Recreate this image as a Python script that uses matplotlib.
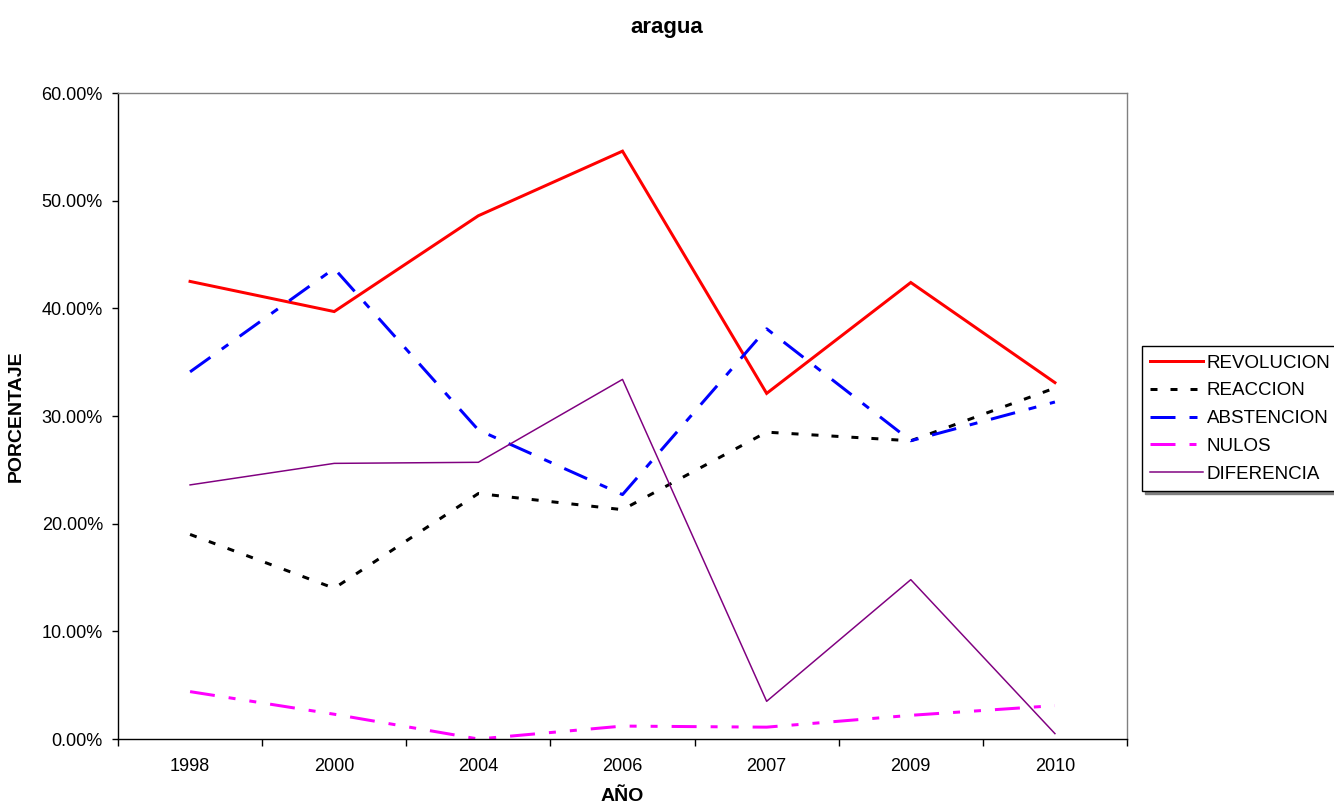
import matplotlib
matplotlib.use("Agg")
import matplotlib.pyplot as plt
from matplotlib.ticker import FixedLocator, PercentFormatter

plt.rcParams['font.family'] = ['Liberation Sans', 'DejaVu Sans']
plt.rcParams['lines.scale_dashes'] = False

years = ["1998", "2000", "2004", "2006", "2007", "2009", "2010"]
revolucion = [42.5, 39.7, 48.6, 54.6, 32.1, 42.4, 33.1]
reaccion = [19.0, 14.0, 22.8, 21.3, 28.5, 27.7, 32.6]
abstencion = [34.1, 43.7, 28.7, 22.7, 38.1, 27.7, 31.3]
nulos = [4.4, 2.3, 0.0, 1.2, 1.1, 2.2, 3.1]
diferencia = [23.6, 25.6, 25.7, 33.4, 3.5, 14.8, 0.5]

fig = plt.figure(figsize=(13.34, 8.05), dpi=100)
ax = fig.add_axes([118/1334, 1-739/805, 1009/1334, 646/805])

x = list(range(len(years)))
px = 0.72
ax.plot(x, revolucion, color='#FF0000', lw=3*px, label='REVOLUCION', solid_joinstyle='miter')
ax.plot(x, reaccion, color='#000000', lw=3*px, label='REACCION',
        dashes=(7*px, 13*px), dash_capstyle='butt')
ax.plot(x, abstencion, color='#0000FF', lw=3*px, label='ABSTENCION',
        dashes=(25*px, 14*px, 8*px, 14*px), dash_capstyle='butt')
ax.plot(x, nulos, color='#FF00FF', lw=3*px, label='NULOS',
        dashes=(25*px, 14*px, 7*px, 14*px, 7*px, 14*px), dash_capstyle='butt')
ax.plot(x, diferencia, color='#800080', lw=1.5*px, label='DIFERENCIA')

ax.set_xlim(-0.5, len(years)-0.5)
ax.set_ylim(0, 60)
ax.yaxis.set_major_locator(FixedLocator([0, 10, 20, 30, 40, 50, 60]))
ax.yaxis.set_major_formatter(PercentFormatter(decimals=2))

ax.xaxis.set_major_locator(FixedLocator([i - 0.5 for i in range(len(years)+1)]))
ax.set_xticklabels([], minor=False)
ax.set_xticks(x, minor=True)
ax.set_xticklabels(years, minor=True)
ax.tick_params(axis='x', which='major', direction='out', length=5, width=1, color='black')
ax.tick_params(axis='x', which='minor', length=0, pad=14, labelsize=13)
ax.tick_params(axis='y', direction='out', length=4.3, width=1, color='black', labelsize=13, pad=6.5)

for s in ['top', 'right']:
    ax.spines[s].set_color('#808080')
    ax.spines[s].set_linewidth(1)
for s in ['left', 'bottom']:
    ax.spines[s].set_color('black')
    ax.spines[s].set_linewidth(1)

ax.set_xlabel('AÑO', fontsize=14, fontweight='bold', labelpad=9)
ax.set_ylabel('PORCENTAJE', fontsize=14, fontweight='bold', labelpad=12)
fig.text(0.5, 1-28/805, 'aragua', ha='center', va='center', fontsize=16, fontweight='bold')

leg = ax.legend(loc='upper left', bbox_to_anchor=(1142/1334, 1-346/805),
                bbox_transform=fig.transFigure, fontsize=13.5, frameon=True,
                fancybox=False, shadow={'color': '#808080', 'alpha': 1.0},
                borderpad=0.45, labelspacing=0.57,
                handlelength=2.8, handletextpad=0.2, borderaxespad=0)
leg.get_frame().set_edgecolor('black')
leg.get_frame().set_linewidth(1)

fig.savefig('out.png', dpi=100)
